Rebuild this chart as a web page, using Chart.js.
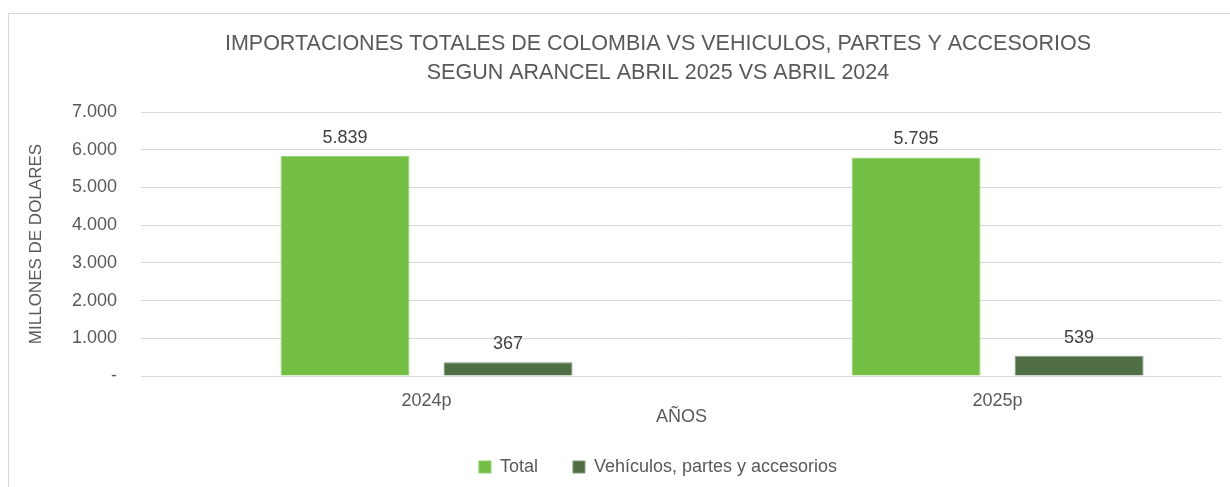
<!DOCTYPE html>
<html>
<head>
<meta charset="utf-8">
<script src="https://cdn.jsdelivr.net/npm/chart.js@4.4.1/dist/chart.umd.min.js"></script>
<style>
  html, body { margin: 0; padding: 0; background: #fff; overflow: hidden; }
  #frame { position: absolute; left: 8px; top: 13px; width: 1300px; height: 500px; border: 1px solid #d9d9d9; }
  #wrap { position: absolute; left: 0; top: 0; width: 1316px; height: 487px; }
</style>
</head>
<body>
<div id="frame"></div>
<div id="wrap"><canvas id="chart"></canvas></div>
<script>
const categories = ['2024p', '2025p'];
const totalValues = [5839, 5795];
const vehiculosValues = [367, 539];
const yTicks = [0, 1000, 2000, 3000, 4000, 5000, 6000, 7000];

const textColor = '#595959';
const font = "'Liberation Sans', Arial, sans-serif";

const fmt = (v) => {
    if (v === 0) return '-';
    return String(Math.round(v)).replace(/\B(?=(\d{3})+(?!\d))/g, '.');
};

// etiquetas de datos encima de cada barra
const labelsPlugin = {
    id: 'valueLabels',
    afterDatasetsDraw(chart) {
        const ctx = chart.ctx;
        ctx.save();
        ctx.font = '18px ' + font;
        ctx.fillStyle = '#404040';
        ctx.textAlign = 'center';
        ctx.textBaseline = 'alphabetic';
        chart.data.datasets.forEach((ds, i) => {
            chart.getDatasetMeta(i).data.forEach((bar, j) => {
                ctx.fillText(fmt(ds.data[j].y), bar.x, bar.y - 13);
            });
        });
        ctx.restore();
    }
};

const toPoints = (arr) => arr.map((v, i) => ({ x: i, y: v }));

new Chart(document.getElementById('chart'), {
    type: 'bar',
    data: {
        datasets: [
            {
                label: 'Total',
                data: toPoints(totalValues),
                backgroundColor: '#72bf44',
                borderColor: '#8fcf6c',
                borderWidth: 1,
                categoryPercentage: 0.571,
                barPercentage: 0.791
            },
            {
                label: 'Vehículos, partes y accesorios',
                data: toPoints(vehiculosValues),
                backgroundColor: '#4f6e45',
                borderColor: '#7f9778',
                borderWidth: 1,
                categoryPercentage: 0.571,
                barPercentage: 0.791
            }
        ]
    },
    options: {
        responsive: true,
        maintainAspectRatio: false,
        animation: false,
        layout: { padding: { left: 0, right: 0, top: 0, bottom: 1 } },
        scales: {
            x: {
                type: 'linear',
                min: -0.5,
                max: 1.393,
                offset: false,
                grid: { display: false, drawTicks: false },
                border: { display: false },
                afterBuildTicks: (scale) => {
                    scale.ticks = categories.map((c, i) => ({ value: i }));
                },
                afterFit: (scale) => { scale.height = 47; },
                ticks: {
                    padding: 14,
                    color: textColor,
                    font: { family: font, size: 18 },
                    callback: (v) => categories[v]
                },
                title: {
                    display: true,
                    text: 'AÑOS',
                    color: textColor,
                    font: { family: font, size: 18 },
                    padding: { top: 0, bottom: -5 }
                }
            },
            y: {
                min: 0,
                max: 7000,
                afterBuildTicks: (scale) => {
                    scale.ticks = yTicks.map((v) => ({ value: v }));
                },
                afterFit: (scale) => { scale.width = 141; },
                grid: { color: '#d9d9d9', lineWidth: 1, drawTicks: false },
                border: { display: false },
                ticks: {
                    padding: 24,
                    color: textColor,
                    font: { family: font, size: 18 },
                    callback: (v) => fmt(v)
                },
                title: {
                    display: true,
                    text: 'MILLONES DE DOLARES',
                    color: textColor,
                    font: { family: font, size: 17 },
                    padding: { top: 26, bottom: 0 }
                }
            },
            yRight: {
                position: 'right',
                display: true,
                min: 0,
                max: 7000,
                grid: { display: false, drawTicks: false },
                border: { display: false },
                ticks: { display: false },
                afterFit: (scale) => { scale.width = 94; }
            }
        },
        plugins: {
            title: {
                display: true,
                text: ['IMPORTACIONES TOTALES DE COLOMBIA VS VEHICULOS, PARTES Y ACCESORIOS',
                       'SEGUN ARANCEL ABRIL 2025 VS ABRIL 2024'],
                color: textColor,
                font: { family: font, size: 21.5, weight: 'normal', lineHeight: 1.35 },
                padding: { top: 30, bottom: 24 }
            },
            legend: {
                position: 'bottom',
                labels: {
                    color: textColor,
                    font: { family: font, size: 18 },
                    boxWidth: 12,
                    boxHeight: 12,
                    padding: 35
                }
            },
            tooltip: { enabled: false }
        }
    },
    plugins: [labelsPlugin]
});
</script>
</body>
</html>
